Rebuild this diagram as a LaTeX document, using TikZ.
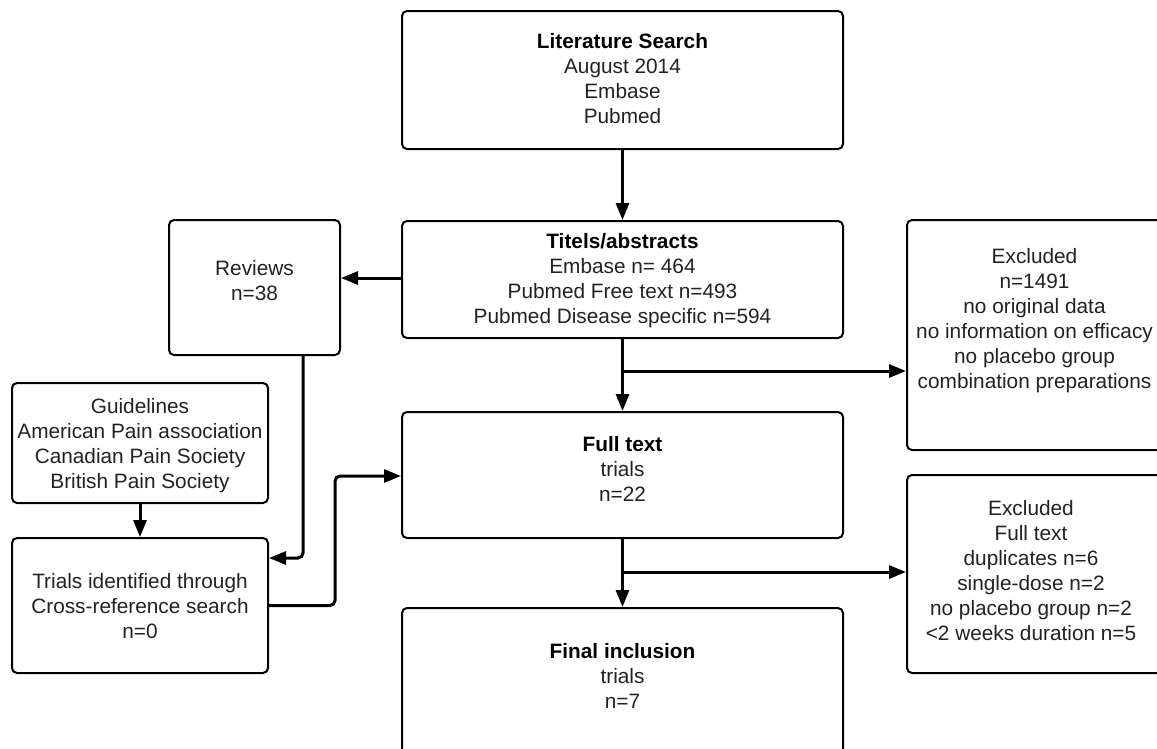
\documentclass[tikz,border=0pt]{standalone}
\usepackage{fontspec}
\setmainfont{Liberation Sans}
\usetikzlibrary{arrows.meta}
\definecolor{txtc}{HTML}{222222}
\tikzset{
  x=1pt, y=-1pt,
  boxnode/.style={draw=black, line width=2pt, rounded corners=5pt, inner sep=0pt, fill=white},
  txtnode/.style={align=center, text=txtc, inner sep=0pt, font=\fontsize{20.8}{25}\selectfont},
  arr/.style={draw=black, line width=3pt, -{Triangle[length=17pt,width=13pt]}},
  ln/.style={draw=black, line width=3pt}
}
\begin{document}
\begin{tikzpicture}
\clip (0,0) rectangle (1157,748);
\fill[white] (0,0) rectangle (1157,748);
% boxes
\node[boxnode, minimum width=441pt, minimum height=138pt] (top) at (622.5,80) {};
\node[boxnode, minimum width=441pt, minimum height=117pt] (tit) at (622.5,279.5) {};
\node[boxnode, minimum width=441pt, minimum height=126pt] (full) at (622.5,475) {};
\node[boxnode, minimum width=441pt, minimum height=160pt] (fin) at (622.5,688) {};
\node[boxnode, minimum width=171pt, minimum height=135pt] (rev) at (254.5,287.5) {};
\node[boxnode, minimum width=256pt, minimum height=120pt] (gui) at (140,443) {};
\node[boxnode, minimum width=256pt, minimum height=135pt] (tri) at (140,605.5) {};
\node[boxnode, minimum width=255pt, minimum height=230pt] (ex1) at (1034.5,335) {};
\node[boxnode, minimum width=255pt, minimum height=198pt] (ex2) at (1034.5,574) {};
% texts
\node[txtnode] (topT) at (622.5,79) {\textbf{\color{black}Literature Search}\\August 2014\\Embase\\Pubmed};
\node[txtnode] (titT) at (622.5,281) {\textbf{\color{black}Titels/abstracts}\\Embase n= 464\\Pubmed Free text n=493\\Pubmed Disease specific n=594};
\node[txtnode] (fullT) at (622.5,469) {\textbf{\color{black}Full text}\\trials\\n=22};
\node[txtnode] (finT) at (622.5,676) {\textbf{\color{black}Final inclusion}\\trials\\n=7};
\node[txtnode] (revT) at (254.5,281) {Reviews\\n=38};
\node[txtnode] (guiT) at (140,446) {Guidelines\\American Pain association\\Canadian Pain Society\\British Pain Society};
\node[txtnode] (triT) at (140,606) {Trials identified through\\Cross-reference search\\n=0};
\node[txtnode] (ex1T) at (1034.5,321) {Excluded\\n=1491\\no original data\\no information on efficacy\\no placebo group\\combination preparations};
\node[txtnode] (ex2T) at (1031,571) {Excluded\\Full text\\duplicates n=6\\single-dose n=2\\no placebo group n=2\\<2 weeks duration n=5};
% connectors
\coordinate (b1) at (622.5,371);
\coordinate (b2) at (622.5,572);
\coordinate (r1) at (303,558);
\coordinate (c1) at (335,605.5);
\coordinate (c2) at (335,476);
\draw[arr] (top.south) -- (tit.north);
\draw[arr] (tit.south) -- (full.north);
\draw[arr] (b1) -- (b1 -| ex1.west);
\draw[arr] (full.south) -- (fin.north);
\draw[arr] (b2) -- (b2 -| ex2.west);
\draw[arr] (tit.west |- 0,278) -- (rev.east |- 0,278);
\draw[arr, rounded corners=5pt] (rev.south -| r1) -- (r1) -- (tri.east |- r1);
\draw[arr] (gui.south) -- (tri.north);
\draw[arr, rounded corners=5pt] (tri.east |- c1) -- (c1) -- (c2) -- (full.west |- c2);
\end{tikzpicture}
\end{document}
